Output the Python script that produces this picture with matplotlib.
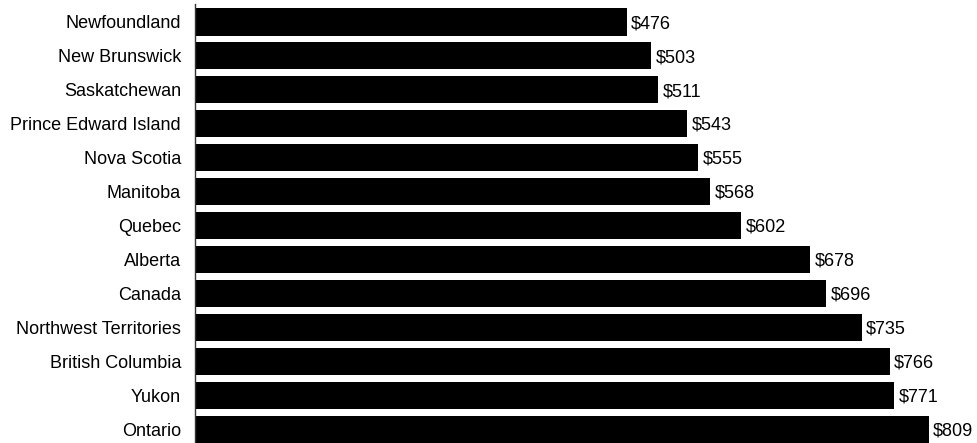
import matplotlib
matplotlib.use("Agg")
import matplotlib.pyplot as plt

regions = ["Newfoundland", "New Brunswick", "Saskatchewan", "Prince Edward Island",
           "Nova Scotia", "Manitoba", "Quebec", "Alberta", "Canada",
           "Northwest Territories", "British Columbia", "Yukon", "Ontario"]
values = [476, 503, 511, 543, 555, 568, 602, 678, 696, 735, 766, 771, 809]

plt.rcParams['font.family'] = ['Liberation Sans', 'DejaVu Sans']

W, H = 977, 443
fig = plt.figure(figsize=(W / 100, H / 100), dpi=100)
left, right = 195 / W, 975 / W
top, bottom = 4 / H, 443 / H
ax = fig.add_axes([left, 1 - bottom, right - left, bottom - top])

y = list(range(len(regions)))
ax.barh(y, values, height=0.8, color="black")
ax.set_xlim(0, 860)
ax.set_ylim(12.41, -0.53)
ax.set_yticks(y)
ax.set_yticklabels(regions, fontsize=13)
ax.tick_params(axis="y", length=0, pad=10)
ax.set_xticks([])
for s in ["top", "right", "bottom"]:
    ax.spines[s].set_visible(False)
ax.spines["left"].set_color("#333333")
ax.spines["left"].set_linewidth(1)

for yi, v in zip(y, values):
    ax.text(v + 5, yi + 0.05, f"${v}", va="center", ha="left", fontsize=13, clip_on=False)

fig.savefig("out.png", dpi=100)
